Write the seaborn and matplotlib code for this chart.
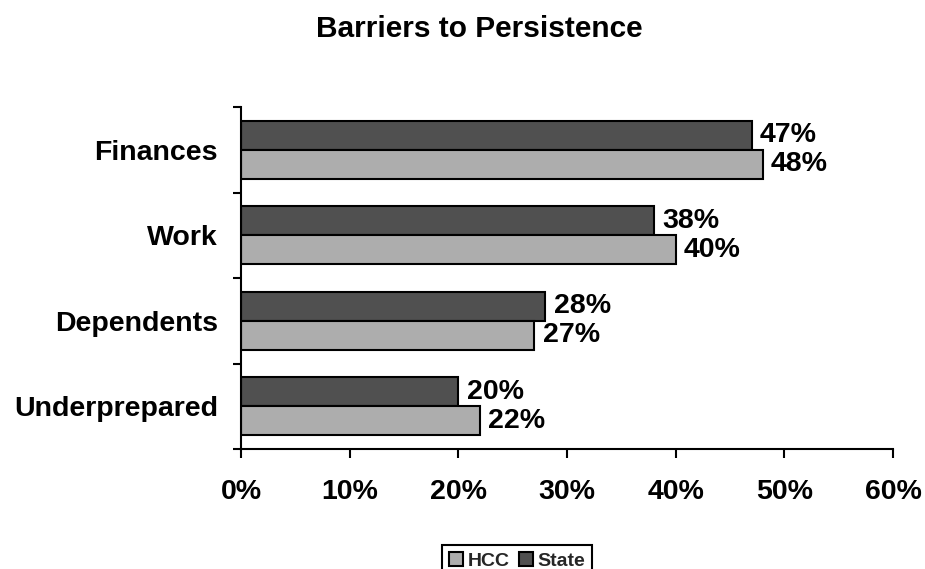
import matplotlib
matplotlib.use("Agg")
import matplotlib.pyplot as plt
import seaborn as sns
import pandas as pd
from matplotlib.patches import Patch
from matplotlib.ticker import PercentFormatter, FixedLocator

categories = ["Finances", "Work", "Dependents", "Underprepared"]
state_values = [47, 38, 28, 20]
hcc_values = [48, 40, 27, 22]
series_names = ["HCC", "State"]
x_ticks = [0, 10, 20, 30, 40, 50, 60]
title = "Barriers to Persistence"

sns.set_theme(style="ticks")
plt.rcParams['font.family'] = ['Liberation Sans', 'DejaVu Sans']
plt.rcParams['font.weight'] = 'bold'

df = pd.DataFrame({
    "category": categories * 2,
    "series": ["State"] * len(categories) + ["HCC"] * len(categories),
    "value": state_values + hcc_values,
})

dark = "#505050"
light = "#adadad"
colors = {"State": dark, "HCC": light}

fig = plt.figure(figsize=(9.25, 5.69), dpi=100)
ax = fig.add_axes([241 / 925, 1 - 449 / 569, (893 - 241) / 925, (449 - 107) / 569])

sns.barplot(data=df, y="category", x="value", hue="series", hue_order=["State", "HCC"],
            order=categories, palette=colors, width=0.68, errorbar=None,
            edgecolor="black", linewidth=1.5, ax=ax, legend=False, orient="h")

ax.set_xlim(0, 60)
ax.set_ylim(3.5, -0.5)
ax.set_xlabel("")
ax.set_ylabel("")
ax.set_xticks(x_ticks)
ax.xaxis.set_major_formatter(PercentFormatter(xmax=100, decimals=0))

for s in ["top", "right"]:
    ax.spines[s].set_visible(False)
for s in ["left", "bottom"]:
    ax.spines[s].set_linewidth(1.5)
    ax.spines[s].set_color("black")

ax.tick_params(axis="x", which="major", direction="out", length=6.5, width=1.5,
               pad=15, labelsize=20.5, color="black", bottom=True)
ax.tick_params(axis="y", which="major", length=0, pad=16.5, labelsize=20.5)
ax.yaxis.set_minor_locator(FixedLocator([-0.5, 0.5, 1.5, 2.5, 3.5]))
ax.tick_params(axis="y", which="minor", direction="out", length=6, width=1.5,
               color="black", left=True)
for lab in ax.get_xticklabels() + ax.get_yticklabels():
    lab.set_fontweight("bold")
    lab.set_color("black")

for c in ax.containers:
    ax.bar_label(c, fmt="%.0f%%", padding=6, fontsize=20.5, fontweight="bold", color="black")

fig.text(479 / 925, 1 - 37 / 569, title, ha="center", va="baseline",
         fontsize=21.5, fontweight="bold", color="black")

handles = [Patch(facecolor=light, edgecolor="black", linewidth=1.5),
           Patch(facecolor=dark, edgecolor="black", linewidth=1.5)]
leg = fig.legend(handles=handles, labels=series_names, loc="upper center",
                 bbox_to_anchor=(517 / 925, 1 - 535 / 569), ncol=2, fontsize=14,
                 frameon=True, fancybox=False, edgecolor="black", framealpha=1,
                 handlelength=0.72, handleheight=0.72, handletextpad=0.2,
                 columnspacing=0.5, borderpad=0.4)
leg.get_frame().set_linewidth(1.5)
for t in leg.get_texts():
    t.set_fontweight("bold")

fig.savefig("out.png", dpi=100)
